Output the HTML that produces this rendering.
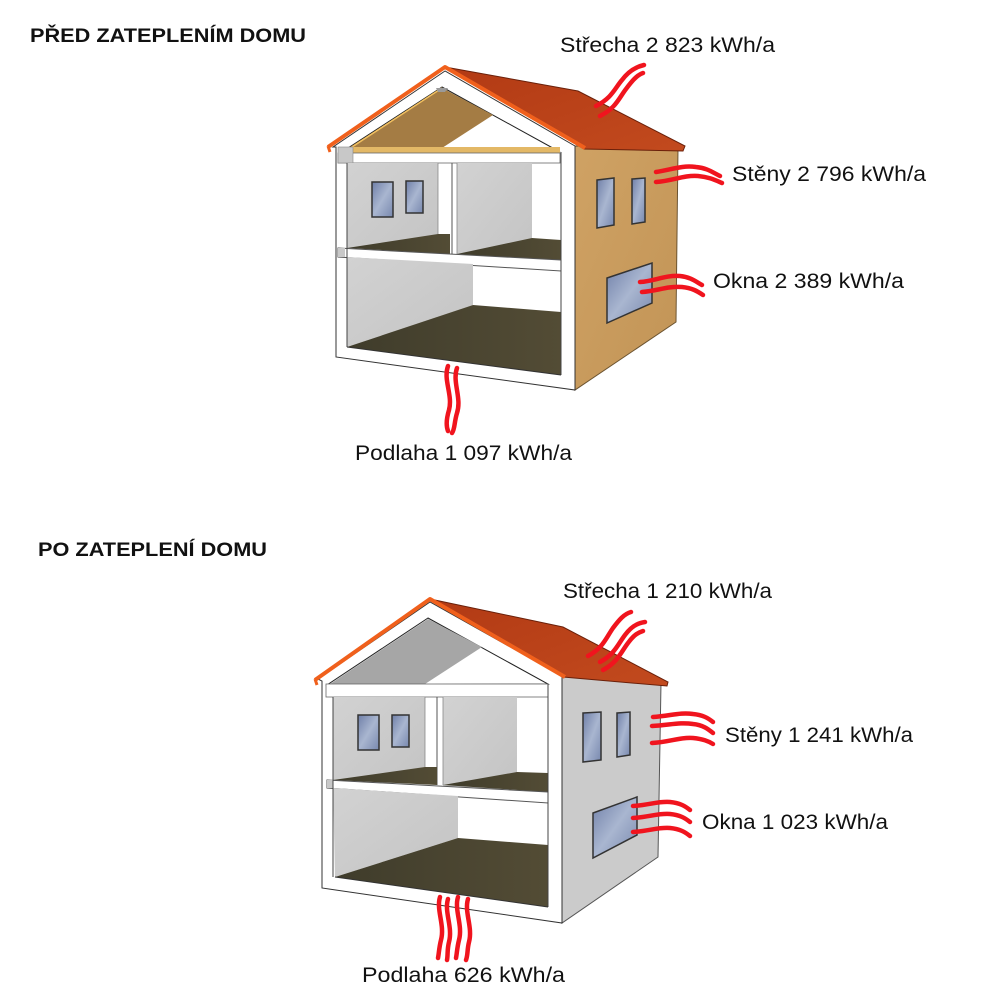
<!DOCTYPE html>
<html><head><meta charset="utf-8"><style>
html,body{margin:0;padding:0;background:#fff;}
svg{display:block;}
text{font-family:"Liberation Sans",sans-serif;fill:#111;}
</style></head><body>
<svg width="1000" height="1000" viewBox="0 0 1000 1000" xmlns="http://www.w3.org/2000/svg">
<defs>
<linearGradient id="roofG" x1="0" y1="0" x2="1" y2="1"><stop offset="0" stop-color="#b23a14"/><stop offset="1" stop-color="#c24a1e"/></linearGradient>
<linearGradient id="tanG" x1="0" y1="0" x2="1" y2="1"><stop offset="0" stop-color="#cfa264"/><stop offset="1" stop-color="#c29456"/></linearGradient>
<linearGradient id="floorG" x1="0" y1="0" x2="1" y2="0"><stop offset="0" stop-color="#3f3c2b"/><stop offset="1" stop-color="#534c35"/></linearGradient>
<linearGradient id="winG" x1="0" y1="0" x2="1" y2="1"><stop offset="0" stop-color="#6f7fa8"/><stop offset="0.5" stop-color="#a9b6d0"/><stop offset="1" stop-color="#7888ae"/></linearGradient>
<linearGradient id="grayG" x1="0" y1="0" x2="1" y2="1"><stop offset="0" stop-color="#d2d2d2"/><stop offset="1" stop-color="#c4c4c4"/></linearGradient>
</defs>

<!-- Titles -->
<text x="30" y="42" font-size="19" font-weight="bold" textLength="276" lengthAdjust="spacingAndGlyphs">PŘED ZATEPLENÍM DOMU</text>
<text x="38" y="556" font-size="19" font-weight="bold" textLength="229" lengthAdjust="spacingAndGlyphs">PO ZATEPLENÍ DOMU</text>

<!-- ===== TOP HOUSE ===== -->
<polygon points="575,146 678,148 676,322 575,390" fill="url(#tanG)" stroke="#6b5330" stroke-width="1"/>
<polygon points="445,67 578,91 685,146 683,151 584,149" fill="url(#roofG)" stroke="#6a200a" stroke-width="1"/>
<polygon points="445,71 333,147 336,147 336,357 575,390 575,146" fill="#fff" stroke="#333" stroke-width="1"/>
<polyline points="328,147 445,67 585,148" fill="none" stroke="#f0601c" stroke-width="4" stroke-linejoin="round"/>
<line x1="328" y1="146" x2="330" y2="152" stroke="#f0601c" stroke-width="3"/>
<!-- attic -->
<polygon points="442,87 348,148 560,152" fill="#fff" stroke="#222" stroke-width="1"/>
<polygon points="442,88 350,147 442,148 493,115" fill="#a47c44"/>
<line x1="442" y1="88" x2="352" y2="147" stroke="#f2c060" stroke-width="1.5"/>
<polygon points="436,88 448,88 445,92 438,92" fill="#9a9a9a"/>
<rect x="353" y="147" width="207" height="6" fill="#e3b866"/>
<rect x="338" y="153" width="222" height="10" fill="#fff" stroke="#666" stroke-width="0.8"/>
<rect x="338" y="147" width="15" height="16" fill="#c8c8c8" stroke="#888" stroke-width="0.6"/>
<!-- upper rooms -->
<rect x="347" y="163" width="91" height="88" fill="url(#grayG)"/>
<rect x="457" y="163" width="75" height="95" fill="url(#grayG)"/>
<line x1="438" y1="163" x2="438" y2="234" stroke="#888" stroke-width="0.8"/>
<line x1="452" y1="163" x2="452" y2="254" stroke="#555" stroke-width="1"/>
<line x1="457" y1="163" x2="457" y2="254" stroke="#888" stroke-width="0.8"/>
<polygon points="347,248 438,234 450,234 450,254" fill="url(#floorG)"/>
<polygon points="457,254 532,238 561,240 561,261" fill="url(#floorG)"/>
<rect x="372" y="182" width="21" height="35" fill="url(#winG)" stroke="#333" stroke-width="1.5"/>
<rect x="406" y="181" width="17" height="32" fill="url(#winG)" stroke="#333" stroke-width="1.5"/>
<!-- middle slab -->
<polygon points="338,248 561,260 561,271 338,257" fill="#fff" stroke="#555" stroke-width="1"/>
<rect x="338" y="248" width="7" height="9" fill="#c8c8c8"/>
<!-- lower room -->
<polygon points="347,257 473,264 473,305 347,347" fill="url(#grayG)"/>
<polygon points="347,347 473,305 561,312 561,375" fill="url(#floorG)"/>
<line x1="347" y1="163" x2="347" y2="347" stroke="#444" stroke-width="1"/>
<line x1="561" y1="152" x2="561" y2="375" stroke="#444" stroke-width="1"/>
<line x1="347" y1="347" x2="561" y2="375" stroke="#333" stroke-width="1"/>
<!-- side windows -->
<polygon points="597,180 614,178 614,225 597,228" fill="url(#winG)" stroke="#333" stroke-width="1.5"/>
<polygon points="632,179 645,178 645,222 632,224" fill="url(#winG)" stroke="#333" stroke-width="1.5"/>
<polygon points="607,278 652,263 652,303 607,323" fill="url(#winG)" stroke="#333" stroke-width="1.5"/>
<!-- waves top -->
<g fill="none" stroke="#f0141e" stroke-width="4.5" stroke-linecap="round">
<path d="M596,106 C612,98 615,88 622,80 C628,72 635,67 644,65"/>
<path d="M600,116 C616,108 619,98 626,89 C632,81 637,75 643,73"/>
<path d="M656,172 C671,170 681,165 696,167 C707,168 712,172 720,176"/>
<path d="M656,182 C673,181 683,175 698,176 C709,177 715,180 722,183"/>
<path d="M640,282 C655,281 665,275 680,276 C690,277 695,281 702,285"/>
<path d="M642,292 C657,291 667,286 682,287 C692,288 697,291 703,295"/>
<path d="M448,366 C443,380 453,395 449,410 C446,420 446,426 448,431"/>
<path d="M457,368 C452,382 462,398 457,413 C454,423 455,429 452,433"/>
</g>
<text x="560" y="52" font-size="21" textLength="215" lengthAdjust="spacingAndGlyphs">Střecha 2 823 kWh/a</text>
<text x="732" y="181" font-size="21" textLength="194" lengthAdjust="spacingAndGlyphs">Stěny 2 796 kWh/a</text>
<text x="713" y="288" font-size="21" textLength="191" lengthAdjust="spacingAndGlyphs">Okna 2 389 kWh/a</text>
<text x="355" y="460" font-size="21" textLength="217" lengthAdjust="spacingAndGlyphs">Podlaha 1 097 kWh/a</text>

<!-- ===== BOTTOM HOUSE ===== -->
<polygon points="562,675 661,683 658,857 562,923" fill="#cbcbcb" stroke="#555" stroke-width="1"/>
<polygon points="430,599 563,627 668,682 667,686 563,677" fill="url(#roofG)" stroke="#6a200a" stroke-width="1"/>
<polygon points="430,602 318,679 322,681 322,888 562,923 562,676" fill="#fff" stroke="#333" stroke-width="1"/>
<polyline points="315,680 430,599 565,677" fill="none" stroke="#f0601c" stroke-width="4" stroke-linejoin="round"/>
<line x1="315" y1="679" x2="317" y2="685" stroke="#f0601c" stroke-width="3"/>
<!-- attic -->
<polygon points="428,618 327,685 548,684" fill="#fff" stroke="#222" stroke-width="1"/>
<polygon points="428,619 330,684 425,684 482,647" fill="#a6a6a6"/>
<rect x="326" y="684" width="222" height="13" fill="#fff" stroke="#666" stroke-width="0.8"/>
<!-- upper rooms -->
<rect x="333" y="697" width="92" height="86" fill="url(#grayG)"/>
<rect x="443" y="697" width="74" height="92" fill="url(#grayG)"/>
<line x1="425" y1="697" x2="425" y2="767" stroke="#888" stroke-width="0.8"/>
<line x1="437" y1="697" x2="437" y2="785" stroke="#555" stroke-width="1"/>
<line x1="443" y1="697" x2="443" y2="785" stroke="#888" stroke-width="0.8"/>
<polygon points="333,780 425,767 437,767 437,785" fill="url(#floorG)"/>
<polygon points="443,785 517,772 548,773 548,792" fill="url(#floorG)"/>
<rect x="358" y="715" width="21" height="35" fill="url(#winG)" stroke="#333" stroke-width="1.5"/>
<rect x="392" y="715" width="17" height="32" fill="url(#winG)" stroke="#333" stroke-width="1.5"/>
<!-- middle slab -->
<polygon points="327,780 548,792 548,803 327,788" fill="#fff" stroke="#555" stroke-width="1"/>
<rect x="327" y="780" width="6" height="8" fill="#c8c8c8"/>
<!-- lower room -->
<polygon points="333,788 458,796 458,838 335,877" fill="url(#grayG)"/>
<polygon points="335,877 458,838 548,845 548,907" fill="url(#floorG)"/>
<line x1="333" y1="697" x2="333" y2="877" stroke="#444" stroke-width="1"/>
<line x1="548" y1="684" x2="548" y2="907" stroke="#444" stroke-width="1"/>
<line x1="335" y1="877" x2="548" y2="907" stroke="#333" stroke-width="1"/>
<!-- side windows -->
<polygon points="583,713 601,712 601,760 583,762" fill="url(#winG)" stroke="#333" stroke-width="1.5"/>
<polygon points="617,713 630,712 630,755 617,757" fill="url(#winG)" stroke="#333" stroke-width="1.5"/>
<polygon points="593,813 637,797 637,835 593,858" fill="url(#winG)" stroke="#333" stroke-width="1.5"/>
<!-- waves bottom -->
<g fill="none" stroke="#f0141e" stroke-width="4.5" stroke-linecap="round">
<path d="M588,656 C603,648 606,638 613,628 C619,620 624,614 631,612"/>
<path d="M600,662 C615,654 618,644 625,635 C631,627 637,623 645,622"/>
<path d="M603,670 C618,662 621,652 628,643 C633,636 637,633 643,631"/>
<path d="M653,717 C670,716 680,712 693,714 C703,715 708,718 713,722"/>
<path d="M652,726 C670,725 680,722 693,724 C703,725 708,729 713,733"/>
<path d="M652,743 C670,742 680,737 693,738 C703,739 708,741 713,744"/>
<path d="M633,806 C650,805 658,801 670,802 C680,803 685,806 690,810"/>
<path d="M633,818 C650,817 658,813 670,814 C680,815 685,818 690,822"/>
<path d="M633,832 C650,831 658,827 670,828 C680,829 685,832 690,836"/>
<path d="M440,897 C436,910 445,925 441,940 C439,948 439,953 438,958"/>
<path d="M448,899 C444,912 453,927 449,942 C447,950 448,955 447,960"/>
<path d="M458,897 C454,910 463,925 459,940 C457,948 457,953 456,958"/>
<path d="M468,899 C464,912 473,927 469,942 C467,950 468,955 466,960"/>
</g>
<text x="563" y="598" font-size="21" textLength="209" lengthAdjust="spacingAndGlyphs">Střecha 1 210 kWh/a</text>
<text x="725" y="742" font-size="21" textLength="188" lengthAdjust="spacingAndGlyphs">Stěny 1 241 kWh/a</text>
<text x="702" y="829" font-size="21" textLength="186" lengthAdjust="spacingAndGlyphs">Okna 1 023 kWh/a</text>
<text x="362" y="982" font-size="21" textLength="203" lengthAdjust="spacingAndGlyphs">Podlaha 626 kWh/a</text>
</svg>
</body></html>
